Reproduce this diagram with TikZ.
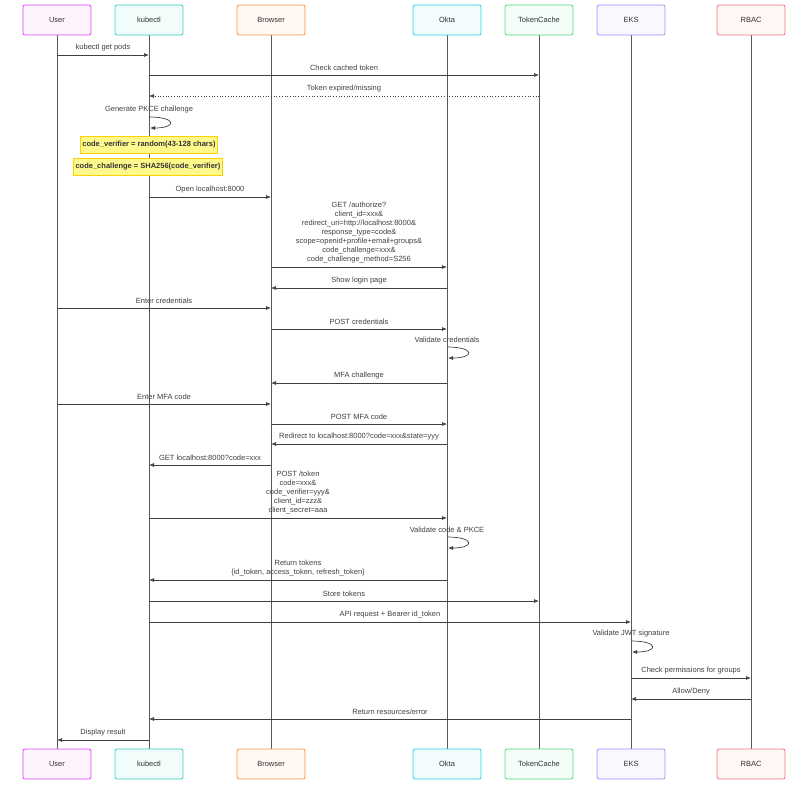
\documentclass[tikz,border=0pt]{standalone}
\usepackage{fontspec}
\setmainfont{Liberation Sans}
\usetikzlibrary{arrows.meta}
\begin{document}
\begin{tikzpicture}[x=1pt,y=-1pt,
  actor/.style={draw=#1, fill=#1!6, line width=0.8pt, rounded corners=2pt, minimum width=68pt, minimum height=30pt, font=\fontsize{7.5}{9}\selectfont, text=black!80},
  msg/.style={draw=black!75, line width=0.7pt, -{Latex[length=5pt,width=4pt]}},
  reply/.style={msg, dotted},
  lbl/.style={font=\fontsize{7.5}{9}\selectfont, text=black!75, align=center, anchor=south, inner sep=1pt},
  life/.style={draw=black!65, line width=1pt},
  note/.style={draw=yellow!70!orange, fill=yellow!45, font=\bfseries\fontsize{7.5}{9}\selectfont, text=black!80, minimum height=17pt, inner sep=2pt}]
\useasboundingbox (0,0) rectangle (810,800);
\definecolor{cu}{HTML}{D946EF}\definecolor{ck}{HTML}{2DD4BF}\definecolor{cb}{HTML}{FB923C}
\definecolor{co}{HTML}{22D3EE}\definecolor{ct}{HTML}{4ADE80}\definecolor{ce}{HTML}{A78BFA}\definecolor{cr}{HTML}{F87171}
\foreach \n/\x/\c/\t in {u/57/cu/User,k/149/ck/kubectl,b/271/cb/Browser,o/447/co/Okta,t/539/ct/TokenCache,e/631/ce/EKS,r/751/cr/RBAC}{
  \draw[life] (\x,35) -- (\x,749);
  \node[actor=\c] (\n top) at (\x,20) {\t};
  \node[actor=\c] (\n bot) at (\x,764) {\t};
}
\newcommand{\mymsg}[5][msg]{% style, from x, to x, y, label
  \coordinate (s) at (#2,#4); \coordinate (d) at (#3,#4);
  \draw[#1] (s) -- (d);
  \node[lbl] at ({(#2+#3)/2},#4-3) {#5};}
\newcommand{\myself}[3]{% x, y, label
  \node[lbl] at (#1,#2-3) {#3};
  \draw[msg] (#1,#2) .. controls (#1+28,#2) and (#1+28,#2+11) .. (#1+1,#2+11);}
\mymsg{57}{149}{55}{kubectl get pods}
\mymsg{149}{539}{75}{Check cached token}
\mymsg[reply]{539}{149}{96}{Token expired/missing}
\myself{149}{117}{Generate PKCE challenge}
\node[note, minimum width=121pt] (n1) at (149,145) {code\_verifier = random(43-128 chars)};
\node[note, minimum width=132pt] (n2) at (148,167) {code\_challenge = SHA256(code\_verifier)};
\mymsg{149}{271}{197}{Open localhost:8000}
\mymsg{271}{447}{267}{GET /authorize?\\client\_id=xxx\&\\redirect\_uri=http://localhost:8000\&\\response\_type=code\&\\scope=openid+profile+email+groups\&\\code\_challenge=xxx\&\\code\_challenge\_method=S256}
\mymsg{447}{271}{288}{Show login page}
\mymsg{57}{271}{308}{Enter credentials}
\mymsg{271}{447}{329}{POST credentials}
\myself{447}{347}{Validate credentials}
\mymsg{447}{271}{383}{MFA challenge}
\mymsg{57}{271}{404}{Enter MFA code}
\mymsg{271}{447}{424}{POST MFA code}
\mymsg{447}{271}{444}{Redirect to localhost:8000?code=xxx\&state=yyy}
\mymsg{271}{149}{465}{GET localhost:8000?code=xxx}
\mymsg{149}{447}{518}{POST /token\\code=xxx\&\\code\_verifier=yyy\&\\client\_id=zzz\&\\client\_secret=aaa}
\myself{447}{537}{Validate code \& PKCE}
\mymsg{447}{149}{580}{Return tokens\\\{id\_token, access\_token, refresh\_token\}}
\mymsg{149}{539}{601}{Store tokens}
\mymsg{149}{631}{622}{API request + Bearer id\_token}
\myself{631}{641}{Validate JWT signature}
\mymsg{631}{751}{678}{Check permissions for groups}
\mymsg{751}{631}{699}{Allow/Deny}
\mymsg{631}{149}{719}{Return resources/error}
\mymsg{149}{57}{740}{Display result}
\end{tikzpicture}
\end{document}
